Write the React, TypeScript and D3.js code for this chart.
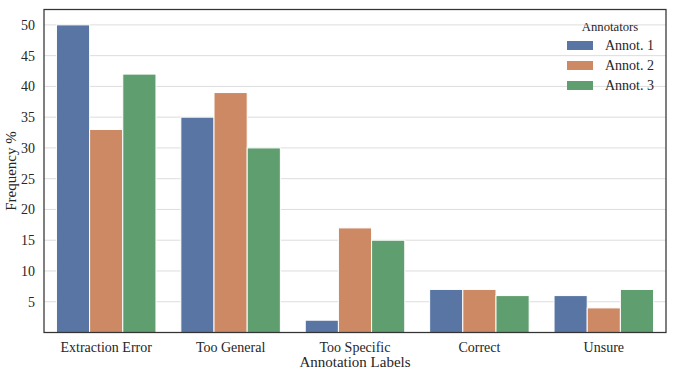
import React from "react";
import * as d3 from "d3";

const categories = ["Extraction Error", "Too General", "Too Specific", "Correct", "Unsure"];
const seriesNames = ["Annot. 1", "Annot. 2", "Annot. 3"];
const annot1 = [50, 35, 2, 7, 6];
const annot2 = [33, 39, 17, 7, 4];
const annot3 = [42, 30, 15, 6, 7];
const yTicks = [5, 10, 15, 20, 25, 30, 35, 40, 45, 50];
const colors = ["#5975a4", "#cc8963", "#5f9e6e"];

const W = 676, H = 376;
const M = { left: 44, right: 666, top: 9.5, bottom: 332.5 };
const FONT = "'Liberation Serif', 'Times New Roman', serif";

export default function App() {
  const series = [annot1, annot2, annot3];
  const x0 = d3.scaleBand().domain(categories).range([M.left, M.right]);
  const groupW = x0.bandwidth() * 0.8;
  const sub = d3.scaleBand().domain(seriesNames).range([0, groupW]);
  const y = d3.scaleLinear().domain([0, 52.5]).range([M.bottom, M.top]);
  return (
    <svg width={W} height={H} style={{ position: "absolute", left: 0, top: 0, background: "#fff" }} fontFamily={FONT}>
      {yTicks.map((t) => (
        <g key={t}>
          <line x1={M.left} x2={M.right} y1={y(t)} y2={y(t)} stroke="#dddddd" strokeWidth={1} />
          <text x={M.left - 9} y={y(t)} dy="0.35em" textAnchor="end" fontSize={14} fill="#262626">{t}</text>
        </g>
      ))}
      {series.map((vals, si) =>
        categories.map((c, ci) => {
          const cx = (x0(c) as number) + x0.bandwidth() / 2 - groupW / 2 + (sub(seriesNames[si]) as number);
          return (
            <rect key={`${si}-${ci}`} x={cx} y={y(vals[ci])} width={sub.bandwidth()} height={y(0) - y(vals[ci])}
              fill={colors[si]} stroke="#ffffff" strokeWidth={1} />
          );
        })
      )}
      <rect x={M.left} y={M.top} width={M.right - M.left} height={M.bottom - M.top} fill="none" stroke="#333333" strokeWidth={1.25} />
      {categories.map((c) => (
        <text key={c} x={(x0(c) as number) + x0.bandwidth() / 2} y={M.bottom + 19} textAnchor="middle" fontSize={14} fill="#262626">{c}</text>
      ))}
      <text x={(M.left + M.right) / 2} y={M.bottom + 34} textAnchor="middle" fontSize={15} fill="#262626">Annotation Labels</text>
      <text transform={`translate(16,${(M.top + M.bottom) / 2}) rotate(-90)`} textAnchor="middle" fontSize={15} fill="#262626">Frequency %</text>
      <text x={610} y={31} textAnchor="middle" fontSize={12.7} fill="#262626">Annotators</text>
      {seriesNames.map((s, i) => (
        <g key={s}>
          <rect x={567} y={41 + i * 20} width={26} height={9} fill={colors[i]} />
          <text x={605} y={45.5 + i * 20} dy="0.35em" fontSize={14} fill="#262626">{s}</text>
        </g>
      ))}
    </svg>
  );
}
